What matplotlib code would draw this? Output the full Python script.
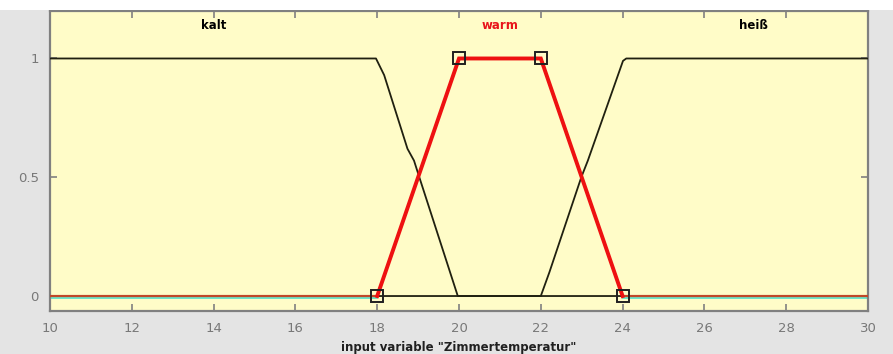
import matplotlib
matplotlib.use("Agg")
import matplotlib.pyplot as plt
from matplotlib.patches import Rectangle
from matplotlib.transforms import ScaledTranslation

# Membership functions of the input variable "Zimmertemperatur"
kalt_x = [10, 17.97, 18.17, 18.74, 18.9, 19.03, 19.97, 30]
kalt_y = [1.0, 1.0, 0.93, 0.62, 0.57, 0.50, 0.0, 0.0]

heiss_x = [10, 22.0, 22.21, 22.99, 23.15, 24.01, 24.09, 30]
heiss_y = [0.0, 0.0, 0.10, 0.50, 0.57, 0.99, 1.0, 1.0]

warm_x = [10, 18, 20, 22, 24, 30]
warm_y = [0, 0, 1, 1, 0, 0]
warm_corners = [18, 20, 22, 24]
warm_corner_y = [0, 1, 1, 0]

mf_names = ["kalt", "warm", "hei\u00df"]
mf_label_x = [14.0, 21.0, 27.2]
mf_label_y = 1.14
mf_label_colors = ["black", "#e8141a", "black"]

x_ticks = [10, 12, 14, 16, 18, 20, 22, 24, 26, 28, 30]
y_ticks = [0, 0.5, 1]
y_tick_labels = ["0", "0.5", "1"]
x_label = 'input variable "Zimmertemperatur"'

fig = plt.figure(figsize=(8.93, 3.54), dpi=100, facecolor="#e4e4e4")
fig.patches.append(Rectangle((0, 0.972), 1, 0.028, transform=fig.transFigure,
                             facecolor="white", edgecolor="none", zorder=0))

ax = fig.add_axes([0.056, 0.1215, 0.916, 0.8475])
ax.set_facecolor("#fffcc8")

# zero baseline shadow, just below the axis value
shift = ax.transData + ScaledTranslation(0, -1.5 / 100, fig.dpi_scale_trans)
ax.plot([warm_x[0], warm_x[1]], [0, 0], color="#50e0c8", lw=1.2, zorder=2, transform=shift)
ax.plot([warm_x[4], warm_x[5]], [0, 0], color="#50e0c8", lw=1.2, zorder=2, transform=shift)

ax.plot(kalt_x, kalt_y, color="#202010", lw=1.3, zorder=3)
ax.plot(heiss_x, heiss_y, color="#202010", lw=1.3, zorder=3)

# selected function: thin full curve plus highlighted trapezoid
ax.plot(warm_x, warm_y, color="#c04828", lw=1.6, zorder=4)
ax.plot(warm_x[1:5], warm_y[1:5], color="#ee1111", lw=2.8, zorder=4, solid_joinstyle="miter")
ax.plot(warm_corners, warm_corner_y, linestyle="none", marker="s", ms=8,
        mfc="none", mec="#202020", mew=1.4, zorder=5)

for name, lx, col in zip(mf_names, mf_label_x, mf_label_colors):
    ax.text(lx, mf_label_y, name, ha="center", va="center", fontsize=8.5,
            fontweight="bold", color=col, family="DejaVu Sans")

ax.set_xlim(10, 30)
ax.set_ylim(-0.063, 1.2)
ax.set_xticks(x_ticks)
ax.set_yticks(y_ticks)
ax.set_yticklabels(y_tick_labels)
ax.tick_params(direction="in", length=5, width=1.2, color="#808080",
               labelcolor="#787878", labelsize=9.5, top=True, right=True, pad=8)
for sp in ax.spines.values():
    sp.set_color("#808080")
    sp.set_linewidth(1.6)

ax.set_xlabel(x_label, fontsize=8.5, fontweight="bold", color="#202020", labelpad=4)

fig.savefig("out.png", dpi=100, facecolor=fig.get_facecolor())
